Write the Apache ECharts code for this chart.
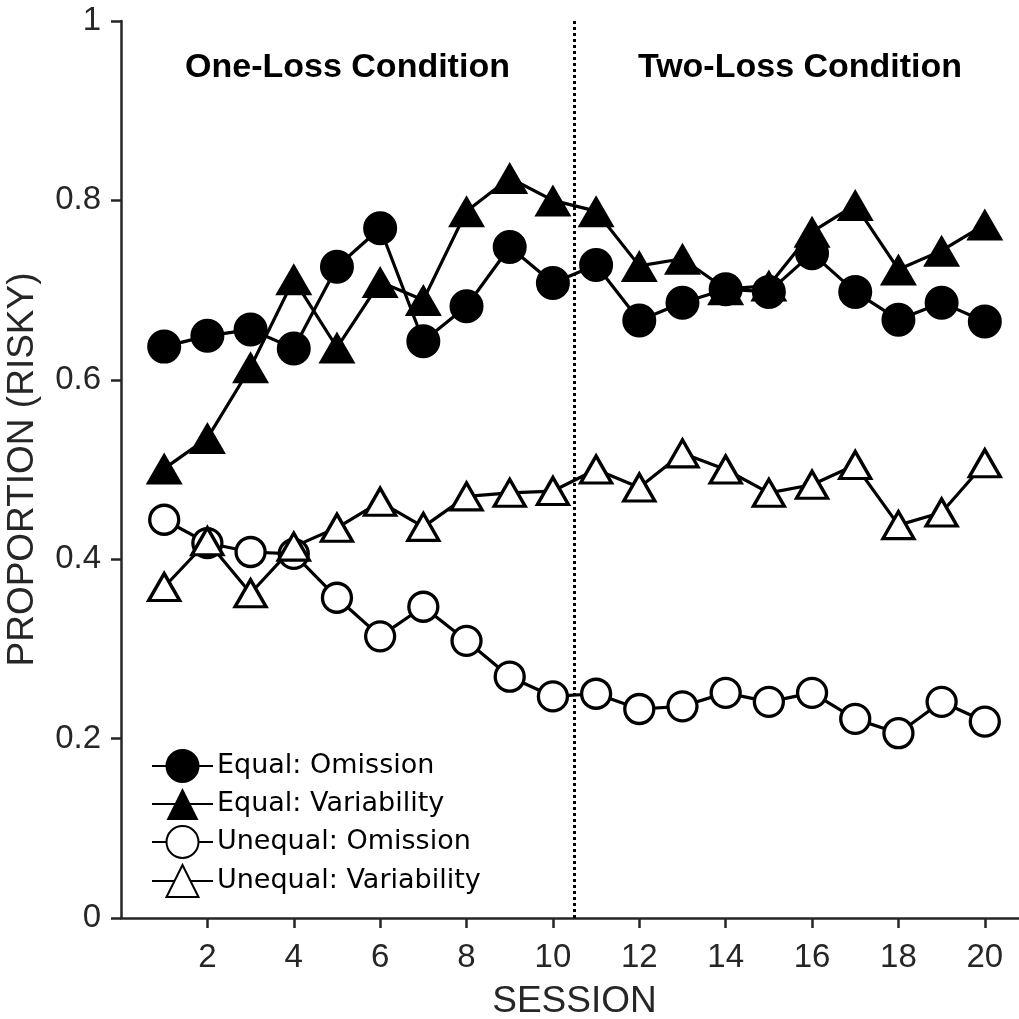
<!DOCTYPE html>
<html>
<head>
<meta charset="utf-8">
<script src="https://cdn.jsdelivr.net/npm/echarts@6/dist/echarts.min.js"></script>
<style>
  html, body { margin: 0; padding: 0; background: #fff; }
  #chart { width: 1019px; height: 1019px; }
</style>
</head>
<body>
<div id="chart"></div>
<script>
const sessions = [1,2,3,4,5,6,7,8,9,10,11,12,13,14,15,16,17,18,19,20];
const equalOmission = [0.637,0.649,0.656,0.635,0.726,0.769,0.643,0.682,0.748,0.708,0.728,0.666,0.686,0.701,0.698,0.741,0.698,0.667,0.686,0.665];
const equalVariability = [0.501,0.535,0.614,0.712,0.636,0.709,0.689,0.788,0.825,0.800,0.788,0.727,0.735,0.701,0.705,0.765,0.795,0.723,0.744,0.773];
const unequalOmission = [0.444,0.418,0.408,0.406,0.357,0.314,0.347,0.309,0.269,0.247,0.250,0.233,0.236,0.251,0.241,0.251,0.222,0.206,0.241,0.219];
const unequalVariability = [0.369,0.420,0.362,0.414,0.435,0.464,0.436,0.470,0.474,0.476,0.500,0.480,0.518,0.500,0.474,0.483,0.505,0.438,0.452,0.507];
const seriesNames = ['Equal: Omission','Equal: Variability','Unequal: Omission','Unequal: Variability'];
const conditionBoundary = 10.5;
const conditionTitles = ['One-Loss Condition','Two-Loss Condition'];
const xAxisName = 'SESSION';
const yAxisName = 'PROPORTION (RISKY)';

const FONT = '"Liberation Sans", Arial, Helvetica, sans-serif';
const AX = '#262626';

function pairs(vals) { return sessions.map((s, i) => [s, vals[i]]); }

function lineSeries(name, vals, symbol, size, fill, border, extra) {
  return Object.assign({
    name: name,
    type: 'line',
    data: pairs(vals),
    symbol: symbol,
    symbolSize: size,
    showSymbol: true,
    showAllSymbol: true,
    clip: false,
    lineStyle: { color: '#000', width: 3.2 },
    itemStyle: { color: fill, borderColor: '#000', borderWidth: border, opacity: 1 },
    emphasis: { disabled: true },
    animation: false
  }, extra || {});
}

const chart = echarts.init(document.getElementById('chart'), null, { renderer: 'canvas' });
chart.setOption({
  animation: false,
  backgroundColor: '#fff',
  grid: { left: 121, right: -9, top: 21, bottom: 101, containLabel: false, outerBoundsMode: 'none' },
  xAxis: {
    type: 'value', min: 0, max: 21, interval: 2,
    name: xAxisName, nameLocation: 'middle', nameGap: 65,
    nameTextStyle: { fontFamily: FONT, fontSize: 37, color: AX },
    axisLine: { show: true, onZero: false, lineStyle: { color: AX, width: 2.5 } },
    axisTick: { show: true, inside: false, length: 10, lineStyle: { color: AX, width: 2.5 } },
    axisLabel: { show: true, margin: 23, fontFamily: FONT, fontSize: 33, color: AX,
      showMinLabel: false, showMaxLabel: false,
      formatter: v => (v === 0 || v > 20 ? '' : String(v)) },
    splitLine: { show: false }
  },
  yAxis: {
    type: 'value', min: 0, max: 1, interval: 0.2,
    name: yAxisName, nameLocation: 'middle', nameGap: 80, nameRotate: 90,
    nameTextStyle: { fontFamily: FONT, fontSize: 37, color: AX },
    axisLine: { show: true, onZero: false, lineStyle: { color: AX, width: 2.5 } },
    axisTick: { show: true, inside: false, length: 10, lineStyle: { color: AX, width: 2.5 } },
    axisLabel: { show: true, margin: 20, fontFamily: FONT, fontSize: 33, color: AX },
    splitLine: { show: false }
  },
  legend: {
    show: true,
    orient: 'vertical',
    left: 151, top: 749,
    padding: 0,
    itemWidth: 61, itemHeight: 40, itemGap: 5,
    data: seriesNames,
    textStyle: { fontFamily: '"DejaVu Sans", sans-serif', fontSize: 27, color: '#000', padding: [0,0,0,-1] },
    selectedMode: false
  },
  graphic: [
    { type: 'text', x: 347.5, y: 68, silent: true,
      style: { text: conditionTitles[0], fontFamily: FONT, fontWeight: 'bold', fontSize: 34, fill: '#000', align: 'center', verticalAlign: 'middle' } },
    { type: 'text', x: 800, y: 68, silent: true,
      style: { text: conditionTitles[1], fontFamily: FONT, fontWeight: 'bold', fontSize: 34, fill: '#000', align: 'center', verticalAlign: 'middle' } }
  ],
  series: [
    lineSeries(seriesNames[0], equalOmission, 'circle', 31, '#000', 3, {
      markLine: {
        silent: true, symbol: ['none','none'], label: { show: false },
        lineStyle: { color: '#000', width: 3, type: [3, 3] },
        data: [{ xAxis: conditionBoundary }],
        animation: false
      }
    }),
    lineSeries(seriesNames[1], equalVariability, 'triangle', [37, 32], '#000', 0),
    lineSeries(seriesNames[2], unequalOmission, 'circle', 29, '#fff', 3.3),
    lineSeries(seriesNames[3], unequalVariability, 'triangle', [31, 27], '#fff', 3.3)
  ]
});
</script>
</body>
</html>
